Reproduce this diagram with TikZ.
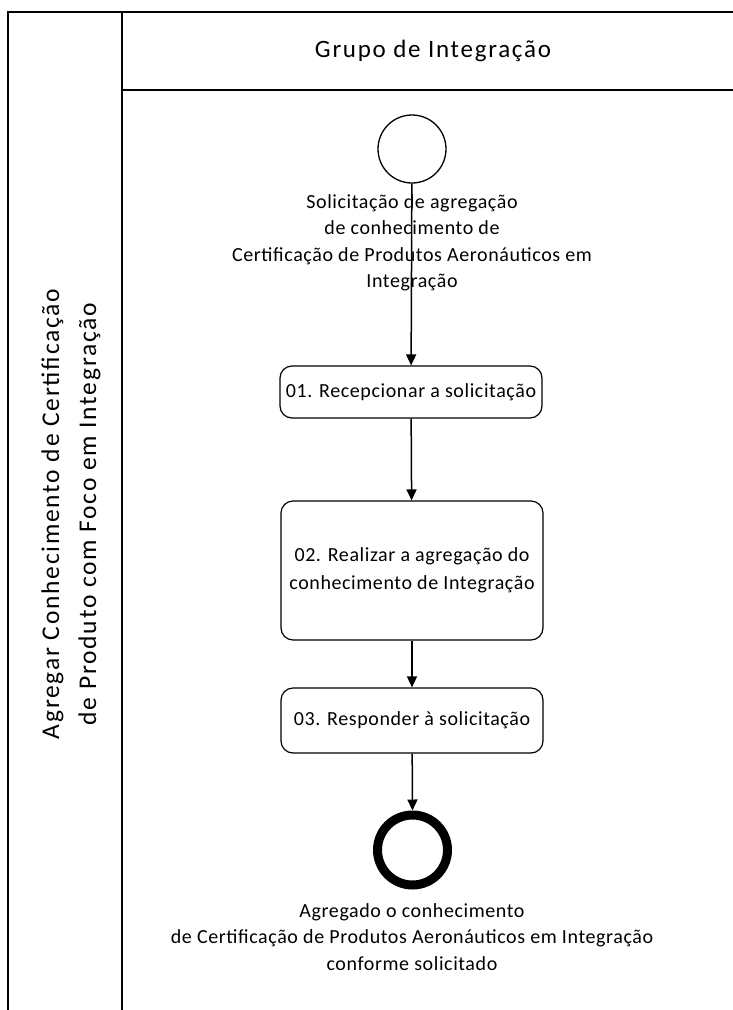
\documentclass[tikz,border=0pt]{standalone}
\usepackage{fontspec}
\setmainfont{Carlito}
\newfontfamily\bodyfont[LetterSpace=3]{Carlito}
\newfontfamily\bigfont[LetterSpace=7]{Carlito}
\usetikzlibrary{arrows.meta}
\begin{document}
\begin{tikzpicture}[x=1pt,y=1pt,
  frame/.style={line width=2pt},
  task/.style={draw,line width=1.2pt,rounded corners=12pt,minimum width=262pt,align=center,font=\bodyfont\fontsize{20}{28}\selectfont},
  flow/.style={line width=1.5pt,-{Triangle[length=11pt,width=10pt]}},
  lbl/.style={align=center,font=\bodyfont\fontsize{20}{26.5}\selectfont,inner sep=0pt}]
\useasboundingbox (0,0) rectangle (733,-1010);
% frame
\coordinate (tl) at (8,-12);
\coordinate (tr) at (733,-12);
\coordinate (bl) at (8,-1010);
\coordinate (st) at (122,-12);
\coordinate (sb) at (122,-1010);
\coordinate (hl) at (122,-90);
\coordinate (hr) at (733,-90);
\draw[frame] (bl) -- (tl) -- (tr);
\draw[frame] (st) -- (sb);
\draw[frame] (hl) -- (hr);
\node[font=\bigfont\fontsize{25}{28}\selectfont] (head) at (433,-51) {Grupo de Integração};
\node[rotate=90,align=center,font=\bigfont\fontsize{25.5}{37}\selectfont] (lane) at (71,-514)
  {Agregar Conhecimento de Certificação\\de Produto com Foco em Integração};
% start
\node[draw,circle,line width=1.3pt,minimum size=68pt,inner sep=0pt] (start) at (412,-149) {};
\node[lbl,anchor=north] (startlbl) at (412,-194)
  {Solicitação de agregação\\de conhecimento de\\Certificação de Produtos Aeronáuticos em\\Integração};
% tasks
\node[task,minimum height=52pt] (t1) at (411,-392) {01. Recepcionar a solicitação};
\node[task,minimum height=139pt] (t2) at (412,-570.5) {02. Realizar a agregação do\\conhecimento de Integração};
\node[task,minimum height=65pt] (t3) at (412,-720.5) {03. Responder à solicitação};
% end
\node[draw,circle,line width=9pt,minimum size=70pt,inner sep=0pt] (end) at (412.5,-850) {};
\node[lbl,anchor=north] (endlbl) at (412,-903)
  {Agregado o conhecimento\\de Certificação de Produtos Aeronáuticos em Integração\\conforme solicitado};
% flows
\draw[flow] (start) -- (t1);
\draw[flow] (t1) -- (t2);
\draw[flow] (t2) -- (t3);
\draw[flow] (t3) -- (end.north);
\end{tikzpicture}
\end{document}
